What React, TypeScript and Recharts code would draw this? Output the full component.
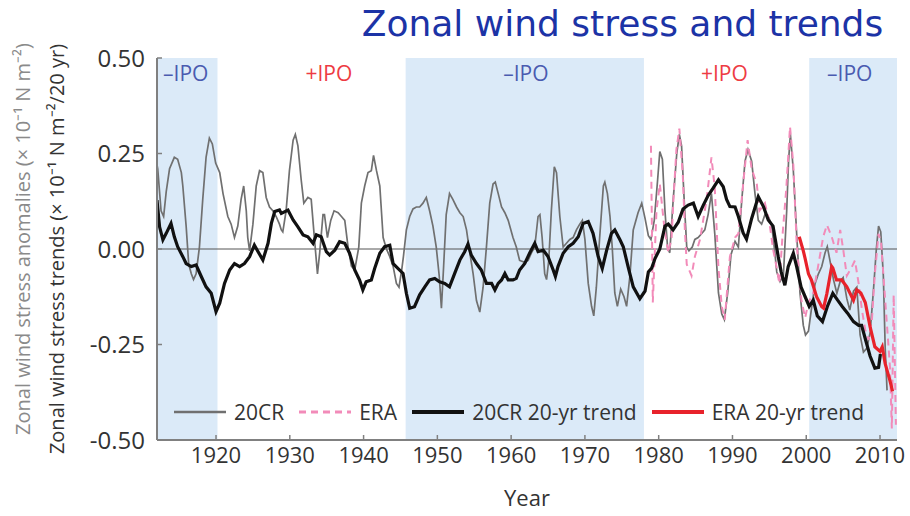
import { LineChart, Line, XAxis, YAxis, ReferenceArea, ReferenceLine, Legend } from 'recharts';

const FONT = "'Open Sans', sans-serif";

const X_TICKS = [1920, 1930, 1940, 1950, 1960, 1970, 1980, 1990, 2000, 2010];
const Y_TICKS = [-0.5, -0.25, 0, 0.25, 0.5];

// negative IPO phases (shaded) and phase labels
const NEG_IPO_START = [1912, 1945.7, 2000.4];
const NEG_IPO_END = [1920.2, 1978.0, 2012.3];
const IPO_LABELS = ['\u2013IPO', '+IPO', '\u2013IPO', '+IPO', '\u2013IPO'];
const IPO_YEARS = [1915.9, 1935.3, 1962.0, 1988.9, 2005.9];

// 20CR anomalies
const cr20Years = [
  1912.0, 1912.1, 1912.55, 1912.9, 1913.25, 1913.7, 1914.35, 1914.8, 1915.3, 1915.5, 1915.95, 1916.3, 1916.65, 1916.95,
  1917.3, 1917.75, 1918.2, 1918.65, 1919.1, 1919.5, 1919.95, 1920.5, 1920.95, 1921.6, 1922.05, 1922.5, 1922.95, 1923.4,
  1923.75, 1924.1, 1924.3, 1924.55, 1925.0, 1925.45, 1925.9, 1926.35, 1926.8, 1927.25, 1927.7, 1928.15, 1928.6, 1928.85,
  1929.05, 1929.5, 1929.95, 1930.45, 1930.75, 1931.1, 1931.55, 1931.9, 1932.45, 1932.9, 1933.35, 1933.75, 1934.05, 1934.5,
  1934.7, 1935.1, 1935.55, 1936.0, 1936.55, 1937.0, 1937.45, 1937.9, 1938.35, 1938.8, 1939.35, 1939.7, 1940.15, 1940.6,
  1941.05, 1941.35, 1941.75, 1942.2, 1942.65, 1943.1, 1943.55, 1944.0, 1944.45, 1944.8, 1945.2, 1945.4, 1945.8, 1946.25,
  1946.7, 1947.15, 1947.6, 1948.05, 1948.5, 1948.95, 1949.4, 1949.85, 1950.25, 1950.55, 1950.85, 1951.2, 1951.65, 1952.1,
  1952.6, 1953.05, 1953.5, 1953.95, 1954.4, 1954.85, 1955.3, 1955.75, 1956.2, 1956.65, 1957.1, 1957.55, 1957.85, 1958.25,
  1958.7, 1959.15, 1959.6, 1960.25, 1960.7, 1961.15, 1961.85, 1962.3, 1962.75, 1963.2, 1963.65, 1963.9, 1964.2, 1964.55,
  1964.8, 1965.1, 1965.45, 1965.85, 1966.15, 1966.6, 1967.05, 1967.5, 1967.95, 1968.4, 1968.85, 1969.3, 1969.65, 1970.0,
  1970.45, 1970.9, 1971.2, 1971.55, 1972.0, 1972.5, 1972.7, 1973.05, 1973.4, 1973.7, 1974.05, 1974.4, 1974.85, 1975.3,
  1975.65, 1976.1, 1976.55, 1977.2, 1977.7, 1978.15, 1978.6, 1978.95, 1979.4, 1979.85, 1980.15, 1980.5, 1980.85, 1981.2,
  1981.5, 1981.95, 1982.45, 1982.8, 1983.1, 1983.45, 1983.8, 1984.1, 1984.55, 1984.9, 1985.35, 1985.8, 1986.25, 1986.7,
  1987.15, 1987.6, 1988.1, 1988.55, 1988.9, 1989.35, 1989.8, 1990.35, 1990.8, 1991.25, 1991.7, 1992.1, 1992.6, 1993.05,
  1993.5, 1993.95, 1994.4, 1994.85, 1995.3, 1995.75, 1996.0, 1996.45, 1996.9, 1997.35, 1997.6, 1997.85, 1998.25, 1998.7,
  1999.15, 1999.6, 1999.9, 2000.3, 2000.75, 2001.2, 2001.65, 2002.1, 2002.55, 2002.85, 2003.2, 2003.7, 2004.15, 2004.6,
  2005.0, 2005.5, 2005.9, 2006.4, 2006.85, 2007.3, 2007.75, 2008.2, 2008.65, 2009.1, 2009.5, 2009.8, 2010.1, 2010.45,
  2010.7, 2010.95,
];
const cr20Values = [
  0.22, 0.21, 0.1, 0.085, 0.15, 0.21, 0.24, 0.235, 0.2, 0.165, 0.06, -0.04, -0.065, -0.08,
  -0.065, 0.005, 0.13, 0.24, 0.29, 0.275, 0.225, 0.2, 0.145, 0.085, 0.065, 0.03, 0.06, 0.13,
  0.165, 0.1, 0.03, -0.005, 0.065, 0.165, 0.205, 0.2, 0.135, 0.11, 0.1, 0.085, 0.065, 0.05,
  0.045, 0.1, 0.205, 0.285, 0.3, 0.27, 0.18, 0.12, 0.135, 0.13, 0.025, -0.065, -0.01, 0.09,
  0.09, 0.03, 0.075, 0.1, 0.095, 0.085, 0.075, 0.005, -0.045, -0.055, 0.005, 0.12, 0.165, 0.2,
  0.205, 0.245, 0.205, 0.165, 0.03, 0.0, -0.02, -0.045, -0.09, -0.1, -0.05, -0.02, 0.05, 0.085,
  0.105, 0.11, 0.11, 0.12, 0.135, 0.1, 0.06, 0.005, -0.07, -0.155, -0.045, 0.09, 0.145, 0.13,
  0.11, 0.095, 0.085, 0.05, -0.01, -0.065, -0.135, -0.165, -0.1, 0.005, 0.12, 0.17, 0.175, 0.145,
  0.11, 0.095, 0.075, 0.03, 0.005, -0.03, -0.035, -0.03, -0.01, 0.005, 0.085, 0.09, 0.03, -0.065,
  -0.08, -0.03, 0.1, 0.215, 0.2, 0.085, 0.005, 0.015, 0.025, 0.03, 0.05, 0.065, 0.075, 0.025,
  -0.09, -0.15, -0.175, -0.1, 0.03, 0.165, 0.175, 0.145, 0.085, 0.005, -0.115, -0.15, -0.105, -0.125,
  -0.15, -0.07, 0.05, 0.095, 0.12, 0.08, 0.035, 0.025, 0.075, 0.18, 0.255, 0.235, 0.1, 0.005,
  -0.01, 0.125, 0.25, 0.3, 0.27, 0.13, 0.005, -0.005, 0.005, 0.025, 0.03, 0.04, 0.05, 0.09,
  0.145, 0.04, -0.115, -0.17, -0.185, -0.115, -0.015, 0.02, 0.005, 0.125, 0.23, 0.26, 0.23, 0.145,
  0.075, 0.065, 0.09, 0.085, 0.065, -0.01, -0.06, -0.085, -0.07, 0.1, 0.23, 0.3, 0.205, 0.04,
  -0.115, -0.2, -0.225, -0.215, -0.15, -0.09, -0.065, -0.046, -0.01, 0.006, -0.029, -0.081, -0.116, -0.085,
  -0.075, -0.13, -0.16, -0.11, -0.1, -0.225, -0.27, -0.26, -0.22, -0.11, 0.0, 0.06, 0.045, -0.07,
  -0.26, -0.37,
];

// ERA anomalies
const eraYears = [
  1978.95, 1979.2, 1979.7, 1980.15, 1980.8, 1981.3, 1981.75, 1982.0, 1982.4, 1982.8, 1983.25, 1983.55, 1983.8, 1984.45,
  1984.9, 1985.6, 1986.5, 1987.15, 1987.6, 1988.1, 1988.55, 1988.95, 1989.65, 1990.35, 1990.8, 1991.45, 1992.05, 1992.6,
  1993.3, 1993.65, 1994.4, 1995.0, 1995.5, 1996.0, 1996.35, 1996.8, 1997.3, 1997.8, 1998.25, 1998.7, 1999.35, 1999.85,
  2000.3, 2000.95, 2001.6, 2002.3, 2002.8, 2003.45, 2004.1, 2004.6, 2005.0, 2005.5, 2006.2, 2006.6, 2007.1, 2007.55,
  2008.0, 2008.45, 2008.9, 2009.3, 2009.8, 2010.15, 2010.7, 2011.35, 2011.6, 2011.85, 2012.15,
];
const eraValues = [
  0.27, -0.14, 0.1, 0.17, 0.05, -0.01, 0.03, 0.13, 0.26, 0.315, 0.2, 0.05, -0.04, -0.07,
  -0.02, 0.025, 0.13, 0.24, 0.16, -0.05, -0.15, -0.185, -0.02, 0.03, 0.04, 0.17, 0.285, 0.21,
  0.17, 0.1, 0.12, 0.07, 0.0, -0.05, -0.09, 0.04, 0.16, 0.32, 0.22, 0.015, -0.135, -0.18,
  -0.14, -0.115, -0.046, 0.032, 0.063, 0.032, -0.01, 0.05, 0.0, -0.07, -0.046, -0.03, -0.09, -0.16,
  -0.212, -0.238, -0.186, -0.064, 0.04, 0.015, -0.134, -0.31, -0.47, -0.12, -0.46,
];

// 20CR 20-yr trend
const cr20TrendYears = [
  1912.0, 1912.35, 1912.8, 1913.25, 1913.9, 1914.35, 1914.8, 1915.5, 1915.95, 1916.65, 1917.3, 1918.0, 1918.65, 1919.35,
  1920.0, 1920.5, 1921.15, 1921.85, 1922.5, 1923.2, 1923.85, 1924.55, 1925.2, 1925.7, 1926.35, 1927.05, 1927.5, 1927.95,
  1928.6, 1928.85, 1929.75, 1930.45, 1931.1, 1931.8, 1932.45, 1933.15, 1933.6, 1934.25, 1934.95, 1935.4, 1936.1, 1936.75,
  1937.45, 1938.1, 1938.8, 1939.45, 1939.9, 1940.35, 1941.05, 1941.5, 1942.2, 1942.85, 1943.55, 1944.0, 1944.65, 1945.35,
  1945.8, 1946.25, 1946.9, 1947.6, 1948.3, 1948.95, 1949.65, 1950.3, 1951.0, 1951.65, 1952.35, 1953.05, 1953.7, 1954.15,
  1954.6, 1955.3, 1955.95, 1956.65, 1957.35, 1957.8, 1958.25, 1958.7, 1959.15, 1959.6, 1960.25, 1960.7, 1961.15, 1961.85,
  1962.5, 1963.2, 1963.65, 1964.35, 1965.0, 1965.7, 1966.0, 1966.35, 1967.05, 1967.75, 1968.4, 1969.1, 1969.75, 1970.45,
  1971.1, 1971.8, 1972.35, 1972.95, 1973.6, 1974.05, 1974.75, 1975.2, 1975.85, 1976.55, 1977.45, 1978.15, 1978.6, 1979.05,
  1979.5, 1980.15, 1980.85, 1981.3, 1981.95, 1982.65, 1983.3, 1984.0, 1984.7, 1985.35, 1986.05, 1986.7, 1987.4, 1988.1,
  1988.75, 1989.2, 1989.65, 1990.35, 1990.8, 1991.45, 1991.9, 1992.6, 1993.5, 1994.2, 1994.85, 1995.5, 1996.2, 1996.6,
  1997.1, 1997.55, 1998.25, 1998.7, 1999.3, 1999.85, 2000.4, 2000.95, 2001.5, 2002.2, 2002.85, 2003.6, 2004.25, 2004.9,
  2005.6, 2006.4, 2007.1, 2007.5, 2008.0, 2008.65, 2009.3, 2009.8, 2010.05,
];
const cr20TrendValues = [
  0.128, 0.058, 0.024, 0.041, 0.067, 0.032, 0.006, -0.02, -0.038, -0.046, -0.042, -0.072, -0.099, -0.116,
  -0.164, -0.142, -0.09, -0.055, -0.038, -0.046, -0.038, -0.02, 0.01, -0.007, -0.029, 0.015, 0.067, 0.098,
  0.102, 0.093, 0.102, 0.076, 0.058, 0.037, 0.032, 0.015, 0.037, 0.032, -0.007, -0.016, -0.003, 0.019,
  0.015, -0.011, -0.055, -0.081, -0.107, -0.086, -0.081, -0.051, -0.011, 0.006, 0.01, -0.038, -0.051, -0.064,
  -0.116, -0.155, -0.151, -0.12, -0.099, -0.081, -0.077, -0.086, -0.09, -0.099, -0.064, -0.029, -0.007, 0.013,
  -0.016, -0.038, -0.055, -0.09, -0.09, -0.107, -0.09, -0.081, -0.064, -0.081, -0.081, -0.077, -0.055, -0.038,
  -0.011, 0.015, -0.007, -0.003, -0.02, -0.055, -0.072, -0.046, -0.011, 0.006, 0.015, 0.032, 0.067, 0.072,
  0.041, -0.02, -0.051, -0.003, 0.041, 0.05, 0.024, 0.006, -0.046, -0.099, -0.13, -0.11, -0.06, -0.05,
  -0.025, 0.0, 0.06, 0.065, 0.05, 0.07, 0.105, 0.115, 0.12, 0.085, 0.115, 0.14, 0.16, 0.181,
  0.163, 0.13, 0.111, 0.11, 0.085, 0.042, 0.026, 0.08, 0.137, 0.111, 0.076, 0.06, -0.02, -0.06,
  -0.095, -0.046, -0.011, -0.046, -0.1, -0.125, -0.15, -0.134, -0.175, -0.19, -0.151, -0.116, -0.134, -0.151,
  -0.168, -0.19, -0.2, -0.2, -0.235, -0.28, -0.312, -0.31, -0.275,
];

// ERA 20-yr trend
const eraTrendYears = [
  1999.05, 1999.6, 1999.85, 2000.3, 2000.7, 2001.4, 2002.1, 2002.35, 2002.8, 2003.45, 2003.6, 2004.1, 2004.8, 2005.5,
  2006.4, 2006.85, 2007.4, 2008.0, 2008.65, 2009.3, 2010.0, 2010.3, 2010.7, 2011.35, 2011.7,
];
const eraTrendValues = [
  0.032, -0.005, -0.025, -0.065, -0.081, -0.125, -0.151, -0.155, -0.116, -0.046, -0.05, -0.081, -0.081, -0.099,
  -0.134, -0.107, -0.115, -0.14, -0.203, -0.256, -0.268, -0.256, -0.3, -0.345, -0.373,
];

const toRows = (years: number[], values: number[]) => years.map((year, i) => ({ year, value: values[i] }));

const SERIES = [
  { name: '20CR', rows: toRows(cr20Years, cr20Values), color: '#707070', width: 1.7, dash: undefined },
  { name: 'ERA', rows: toRows(eraYears, eraValues), color: '#f28bb9', width: 2, dash: '7 5' },
  { name: '20CR 20-yr trend', rows: toRows(cr20TrendYears, cr20TrendValues), color: '#111111', width: 3.2, dash: undefined },
  { name: 'ERA 20-yr trend', rows: toRows(eraTrendYears, eraTrendValues), color: '#e8222b', width: 3.2, dash: undefined },
];

function LegendRow() {
  return (
    <div style={{ display: 'flex', alignItems: 'center', fontFamily: FONT, fontSize: 21, color: '#333', whiteSpace: 'nowrap' }}>
      {SERIES.map((s) => (
        <div key={s.name} style={{ display: 'flex', alignItems: 'center', marginRight: 15 }}>
          <svg width={52} height={10} style={{ marginRight: 8 }}>
            <line x1={0} y1={5} x2={52} y2={5} stroke={s.color} strokeWidth={s.width + 0.8} strokeDasharray={s.dash} />
          </svg>
          <span>{s.name}</span>
        </div>
      ))}
    </div>
  );
}

export default function App() {
  return (
    <div style={{ position: 'absolute', left: 0, top: 0, width: 910, height: 516, background: '#fff' }}>
      <div style={{ position: 'absolute', left: 345, top: 0, width: 555, textAlign: 'center', fontFamily: "'DejaVu Sans', sans-serif", fontSize: 36, lineHeight: '48px', color: '#1c33a6' }}>
        Zonal wind stress and trends
      </div>
      <div style={{ position: 'absolute', left: 23 - 260, top: 239 - 13, width: 520, height: 26, lineHeight: '26px', textAlign: 'center', transform: 'rotate(-90deg)', fontFamily: FONT, fontSize: 20, color: '#8a8a8a', whiteSpace: 'nowrap' }}>
        Zonal wind stress anomalies (× 10⁻¹ N m⁻²)
      </div>
      <div style={{ position: 'absolute', left: 57 - 260, top: 249 - 13, width: 520, height: 26, lineHeight: '26px', textAlign: 'center', transform: 'rotate(-90deg)', fontFamily: FONT, fontSize: 20, color: '#333', whiteSpace: 'nowrap' }}>
        Zonal wind stress trends (× 10⁻¹ N m⁻²/20 yr)
      </div>
      <LineChart width={910} height={516} margin={{ top: 58, right: 13, bottom: 0, left: 97 }}>
        {NEG_IPO_START.map((x1, i) => (
          <ReferenceArea key={`b${i}`} x1={x1} x2={NEG_IPO_END[i]} fill="#dbeaf8" fillOpacity={1} stroke="none" ifOverflow="hidden" />
        ))}
        {IPO_YEARS.map((x, i) => (
          <ReferenceLine
            key={`l${i}`}
            x={x}
            stroke="none"
            label={{ value: IPO_LABELS[i], position: 'insideTop', offset: 8, fill: IPO_LABELS[i].startsWith('+') ? '#ee3b43' : '#4a5bb0', fontSize: 21, fontFamily: FONT }}
          />
        ))}
        <ReferenceLine y={0} stroke="#555" strokeWidth={1} />
        <XAxis
          type="number"
          dataKey="year"
          domain={[1912, 2012.3]}
          ticks={X_TICKS}
          allowDataOverflow
          height={76}
          tickSize={-5}
          tickMargin={12}
          axisLine={{ stroke: '#808080', strokeWidth: 2 }}
          tickLine={{ stroke: '#808080', strokeWidth: 1.5 }}
          tick={{ fill: '#333', fontSize: 22, fontFamily: FONT }}
          label={{ value: 'Year', position: 'insideBottom', offset: 10, fill: '#333', fontSize: 22, fontFamily: FONT }}
        />
        <YAxis
          type="number"
          domain={[-0.5, 0.5]}
          ticks={Y_TICKS}
          width={60}
          tickSize={-5}
          tickMargin={17}
          allowDataOverflow
          tickFormatter={(v: number) => v.toFixed(2)}
          axisLine={{ stroke: '#808080', strokeWidth: 2 }}
          tickLine={{ stroke: '#808080', strokeWidth: 1.5 }}
          tick={{ fill: '#333', fontSize: 24, fontFamily: FONT }}
        />
        <YAxis
          yAxisId="right"
          orientation="right"
          type="number"
          domain={[-0.5, 0.5]}
          width={0}
          tick={false}
          tickLine={false}
          axisLine={{ stroke: '#808080', strokeWidth: 2 }}
        />
        {SERIES.map((s) => (
          <Line
            key={s.name}
            data={s.rows}
            dataKey="value"
            name={s.name}
            type="linear"
            stroke={s.color}
            strokeWidth={s.width}
            strokeDasharray={s.dash}
            dot={false}
            activeDot={false}
            isAnimationActive={false}
          />
        ))}
        <Legend
          layout="horizontal"
          verticalAlign="middle"
          align="center"
          content={() => <LegendRow />}
          wrapperStyle={{ left: 174, top: 398, width: 'auto' }}
        />
      </LineChart>
    </div>
  );
}
